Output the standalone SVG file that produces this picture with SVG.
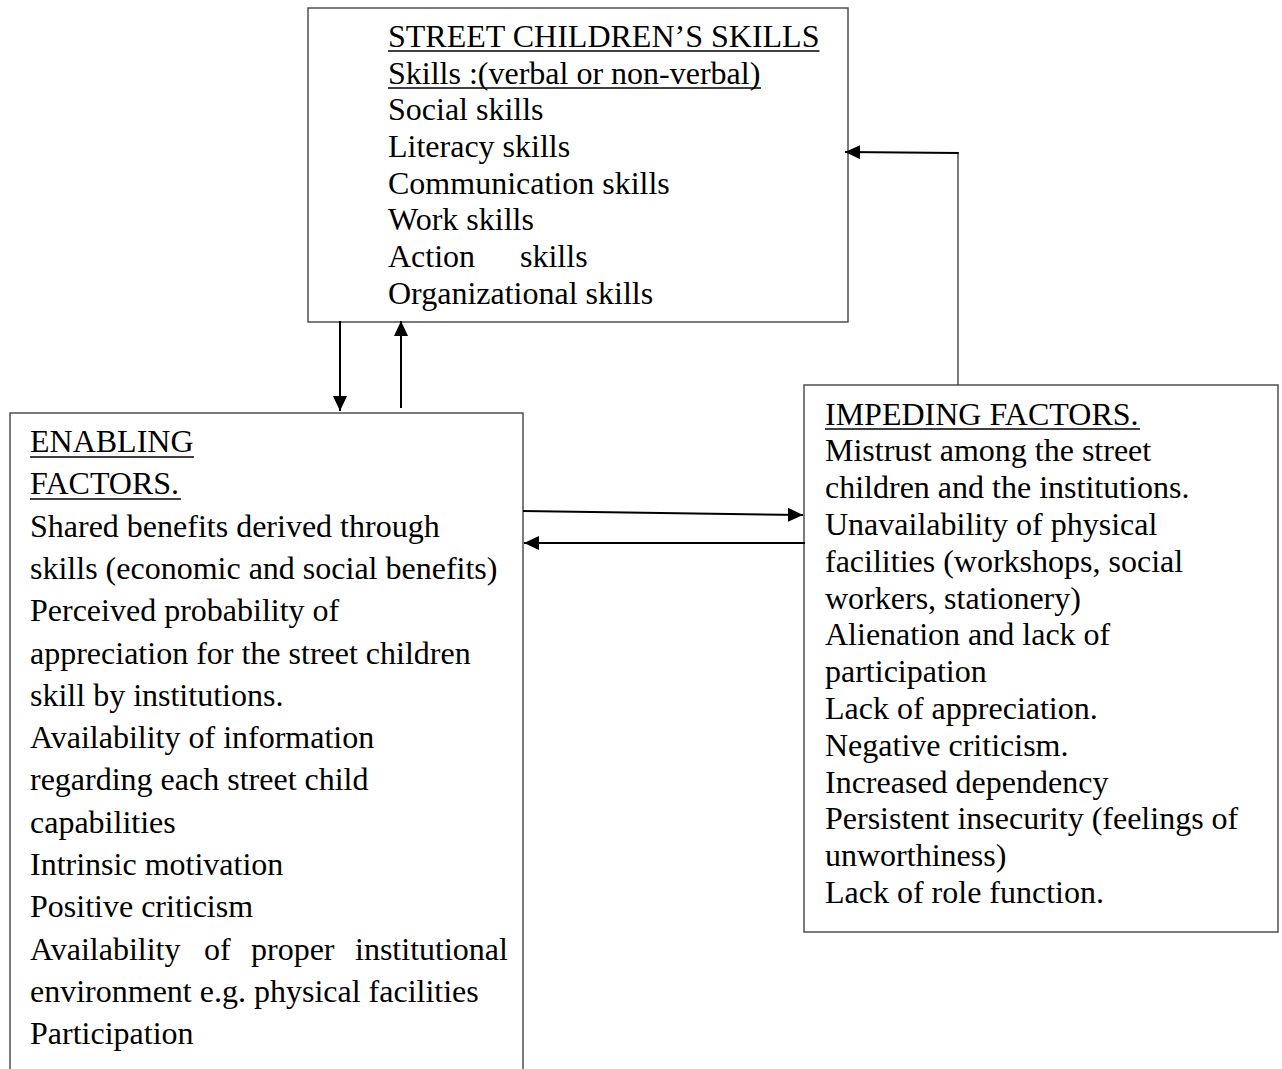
<svg xmlns="http://www.w3.org/2000/svg" width="1282" height="1069" viewBox="0 0 1282 1069">
<style>
.box{fill:#fff;stroke:#444;stroke-width:1.4}
.t{font-family:"Liberation Serif","Times New Roman",serif;font-size:32px;fill:#000}
.ul{stroke:#000;stroke-width:1.5}
.arr{stroke:#000;stroke-width:2;fill:none}
</style>
<defs>
<marker id="ah" viewBox="0 0 15 14" refX="15" refY="7" markerWidth="15" markerHeight="14" markerUnits="userSpaceOnUse" orient="auto">
<path d="M0,0 L15,7 L0,14 z" fill="#000"/>
</marker>
</defs>
<rect width="1282" height="1069" fill="#fff"/>
<g id="skills">
<rect class="box" x="308" y="8" width="540" height="314"/>
<text class="t" x="388">
<tspan x="388" y="47">STREET CHILDREN’S SKILLS</tspan>
<tspan x="388" y="83.6">Skills :(verbal or non-verbal)</tspan>
<tspan x="388" y="120.3">Social skills</tspan>
<tspan x="388" y="157">Literacy skills</tspan>
<tspan x="388" y="193.6">Communication skills</tspan>
<tspan x="388" y="230.3">Work skills</tspan>
<tspan x="388" y="267">Action</tspan><tspan x="520" y="267">skills</tspan>
<tspan x="388" y="303.6">Organizational skills</tspan>
</text>
<line class="ul" x1="388" y1="51" x2="819.5" y2="51"/>
<line class="ul" x1="388" y1="88" x2="761" y2="88"/>
</g>
<g id="enabling">
<rect class="box" x="10" y="413" width="513" height="700"/>
<text class="t">
<tspan x="30" y="452">ENABLING</tspan>
<tspan x="30" y="494.3">FACTORS.</tspan>
<tspan x="30" y="536.6">Shared benefits derived through</tspan>
<tspan x="30" y="578.9">skills (economic and social benefits)</tspan>
<tspan x="30" y="621.2">Perceived probability of</tspan>
<tspan x="30" y="663.5">appreciation for the street children</tspan>
<tspan x="30" y="705.8">skill by institutions.</tspan>
<tspan x="30" y="748.1">Availability of information</tspan>
<tspan x="30" y="790.4">regarding each street child</tspan>
<tspan x="30" y="832.7">capabilities</tspan>
<tspan x="30" y="875">Intrinsic motivation</tspan>
<tspan x="30" y="917.3">Positive criticism</tspan>
<tspan x="30" y="959.6">Availability</tspan><tspan x="204" y="959.6">of</tspan><tspan x="251" y="959.6">proper</tspan><tspan x="355" y="959.6">institutional</tspan>
<tspan x="30" y="1001.9">environment e.g. physical facilities</tspan>
<tspan x="30" y="1044.2">Participation</tspan>
</text>
<line class="ul" x1="30" y1="457" x2="194" y2="457"/>
<line class="ul" x1="30" y1="499" x2="181" y2="499"/>
</g>
<g id="impeding">
<rect class="box" x="804" y="385" width="474" height="547"/>
<text class="t">
<tspan x="825" y="424.5">IMPEDING FACTORS.</tspan>
<tspan x="825" y="461.3">Mistrust among the street</tspan>
<tspan x="825" y="498.1">children and the institutions.</tspan>
<tspan x="825" y="534.9">Unavailability of physical</tspan>
<tspan x="825" y="571.7">facilities (workshops, social</tspan>
<tspan x="825" y="608.5">workers, stationery)</tspan>
<tspan x="825" y="645.3">Alienation and lack of</tspan>
<tspan x="825" y="682.1">participation</tspan>
<tspan x="825" y="718.9">Lack of appreciation.</tspan>
<tspan x="825" y="755.7">Negative criticism.</tspan>
<tspan x="825" y="792.5">Increased dependency</tspan>
<tspan x="825" y="829.3">Persistent insecurity (feelings of</tspan>
<tspan x="825" y="866.1">unworthiness)</tspan>
<tspan x="825" y="902.9">Lack of role function.</tspan>
</text>
<line class="ul" x1="825" y1="429" x2="1140" y2="429"/>
</g>
<g id="connectors">
<line class="arr" x1="340" y1="321" x2="340" y2="411" marker-end="url(#ah)"/>
<line class="arr" x1="401" y1="408" x2="401" y2="321" marker-end="url(#ah)"/>
<line class="arr" x1="523" y1="511" x2="803" y2="515" marker-end="url(#ah)"/>
<line class="arr" x1="805" y1="543" x2="524" y2="543" marker-end="url(#ah)"/>
<line x1="958" y1="385" x2="958" y2="152" stroke="#333" stroke-width="1.3"/>
<line class="arr" x1="958.6" y1="153" x2="845" y2="152" marker-end="url(#ah)"/>
</g>
</svg>
